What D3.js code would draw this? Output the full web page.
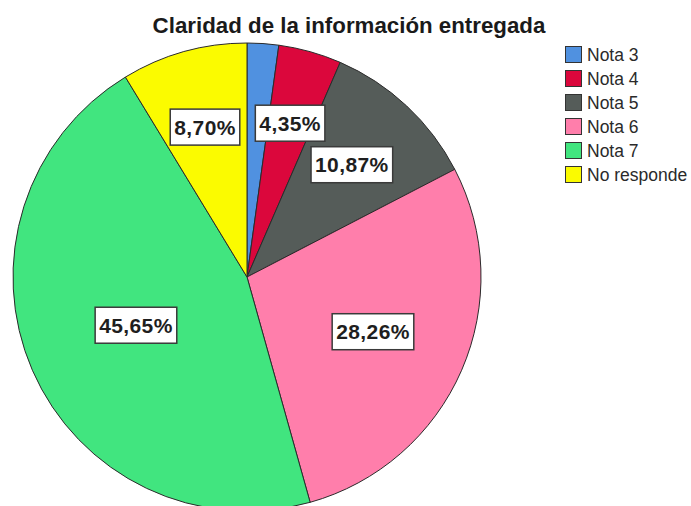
<!DOCTYPE html>
<html>
<head>
<meta charset="utf-8">
<script src="https://cdn.jsdelivr.net/npm/d3@7"></script>
<style>
  html, body { margin: 0; padding: 0; background: #fff; }
  svg { display: block; }
</style>
</head>
<body>
<script>
// Respuestas por categoría (n = 46)
const categories = ["Nota 3", "Nota 4", "Nota 5", "Nota 6", "Nota 7", "No responde"];
const counts = [1, 2, 5, 13, 21, 4];
const percentLabels = ["", "4,35%", "10,87%", "28,26%", "45,65%", "8,70%"];
const colors = ["#5091e0", "#db073c", "#555c59", "#ff7eab", "#41e57f", "#fbfb00"];
const title = "Claridad de la información entregada";

const width = 691, height = 506;
const cx = 247, cy = 277, radius = 234;

const svg = d3.select("body").append("svg")
  .attr("width", width).attr("height", height);

svg.append("text")
  .attr("x", 349).attr("y", 33)
  .attr("text-anchor", "middle")
  .attr("font-family", "Liberation Sans, Arial, sans-serif")
  .attr("font-weight", "bold")
  .attr("font-size", 22.3)
  .attr("fill", "#1a1a1a")
  .text(title);

const data = categories.map((c, i) => ({ cat: c, value: counts[i], label: percentLabels[i], color: colors[i] }));
const total = d3.sum(counts);

const pie = d3.pie().value(d => d.value).sort(null);
const arc = d3.arc().innerRadius(0).outerRadius(radius);
const arcs = pie(data);

const g = svg.append("g").attr("transform", `translate(${cx},${cy})`);

g.selectAll("path.slice")
  .data(arcs)
  .join("path")
  .attr("class", "slice")
  .attr("d", arc)
  .attr("fill", d => d.data.color)
  .attr("stroke", "#2b2b2b")
  .attr("stroke-width", 1);

// Percentage labels: larger slices keep their label closer to the centre
const labels = g.selectAll("g.lbl")
  .data(arcs.filter(d => d.data.label))
  .join("g")
  .attr("class", "lbl")
  .attr("transform", d => {
    const share = d.data.value / total;
    const r = radius * (0.70 - 0.40 * share);
    const a = (d.startAngle + d.endAngle) / 2;
    return `translate(${r * Math.sin(a)},${-r * Math.cos(a)})`;
  });

labels.append("text")
  .attr("text-anchor", "middle")
  .attr("dy", "0.36em")
  .attr("font-family", "Liberation Sans, Arial, sans-serif")
  .attr("font-weight", "bold")
  .attr("font-size", 21)
  .attr("letter-spacing", 0.4)
  .attr("fill", "#1e1e1e")
  .text(d => d.data.label);

labels.each(function () {
  const grp = d3.select(this);
  const bb = grp.select("text").node().getBBox();
  grp.insert("rect", "text")
    .attr("x", bb.x - 4)
    .attr("y", -18)
    .attr("width", bb.width + 8)
    .attr("height", 36)
    .attr("fill", "#fff")
    .attr("stroke", "#3a3a3a")
    .attr("stroke-width", 1.5);
});

// Legend
const legend = svg.append("g").attr("transform", "translate(565,46)");
const items = legend.selectAll("g")
  .data(data)
  .join("g")
  .attr("transform", (d, i) => `translate(0,${i * 24})`);

items.append("rect")
  .attr("x", 0.5).attr("y", 0.5)
  .attr("width", 16).attr("height", 16)
  .attr("fill", d => d.color)
  .attr("stroke", "#333")
  .attr("stroke-width", 1);

items.append("text")
  .attr("x", 22).attr("y", 8.5)
  .attr("dy", "0.36em")
  .attr("font-family", "Liberation Sans, Arial, sans-serif")
  .attr("font-size", 17.5)
  .attr("fill", "#2a2a2a")
  .text(d => d.cat);
</script>
</body>
</html>
